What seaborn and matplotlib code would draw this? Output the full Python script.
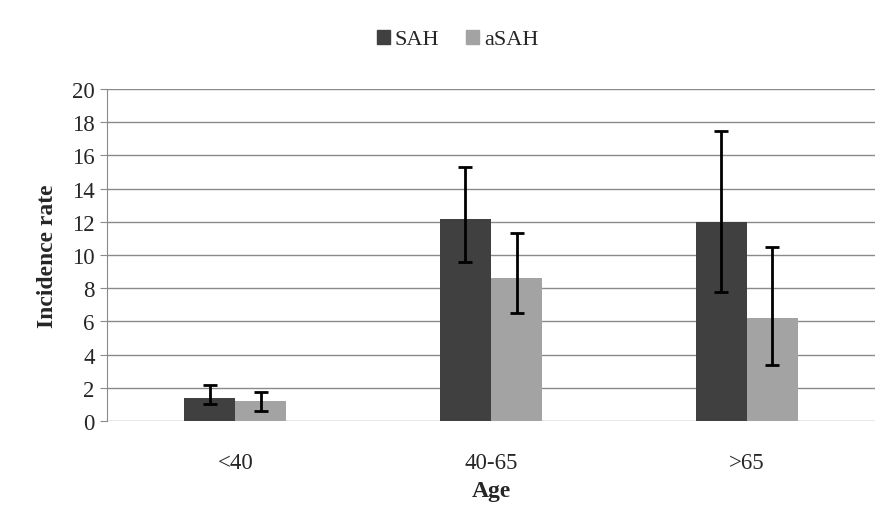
import numpy as np
import pandas as pd
import seaborn as sns
import matplotlib.pyplot as plt
from matplotlib.patches import Patch

ages = ["<40", "40-65", ">65"]
groups = ["SAH", "aSAH"]
sah = [1.4, 12.2, 12.0]
sah_lo = [1.0, 9.6, 7.8]
sah_hi = [2.15, 15.3, 17.5]
asah = [1.2, 8.6, 6.2]
asah_lo = [0.6, 6.5, 3.4]
asah_hi = [1.75, 11.3, 10.5]

df = pd.DataFrame({
    "Age": ages * 2,
    "Group": ["SAH"] * 3 + ["aSAH"] * 3,
    "Rate": sah + asah,
})

sns.set_style("white")
plt.rcParams['font.family'] = ['Liberation Serif', 'DejaVu Serif']

fig = plt.figure(figsize=(8.8, 5.06), dpi=100)
ax = fig.add_axes([0.122, 0.166, 0.872, 0.656])

sns.barplot(data=df, x="Age", y="Rate", hue="Group", order=ages, hue_order=groups,
            palette=["#404040", "#a3a3a3"], width=0.4, saturation=1, linewidth=0,
            ax=ax, legend=False)

# error bars (asymmetric)
for i, (vals, lo, hi) in enumerate([(sah, sah_lo, sah_hi), (asah, asah_lo, asah_hi)]):
    bars = ax.containers[i]
    xs = [b.get_x() + b.get_width() / 2 for b in bars]
    yerr = [np.array(vals) - np.array(lo), np.array(hi) - np.array(vals)]
    ax.errorbar(xs, vals, yerr=yerr, fmt="none", ecolor="black", elinewidth=2,
                capsize=5, capthick=2, zorder=5)

ax.set_ylim(0, 20)
ax.set_yticks(range(0, 21, 2))
ax.set_xlim(-0.5, 2.5)
ax.yaxis.grid(True, color="#8a8a8a", linewidth=1)
ax.set_axisbelow(True)
for s in ["top", "right", "bottom"]:
    ax.spines[s].set_visible(False)
ax.spines["left"].set_color("#8a8a8a")
ax.tick_params(axis="y", length=5, color="#8a8a8a", labelsize=16.5, left=True, pad=4)
ax.tick_params(axis="x", length=0, labelsize=16.5, pad=22)
ax.set_xlabel("Age", fontsize=17, fontweight="bold", labelpad=5)
ax.set_ylabel("Incidence rate", fontsize=17, fontweight="bold", labelpad=10)

handles = [Patch(color="#404040"), Patch(color="#a3a3a3")]
fig.legend(handles, groups, loc="center", bbox_to_anchor=(0.52, 0.92), ncol=2,
           frameon=False, fontsize=16, handlelength=0.6, handleheight=0.6,
           handletextpad=0.2, columnspacing=1.2)

fig.savefig("out.png", dpi=100)
